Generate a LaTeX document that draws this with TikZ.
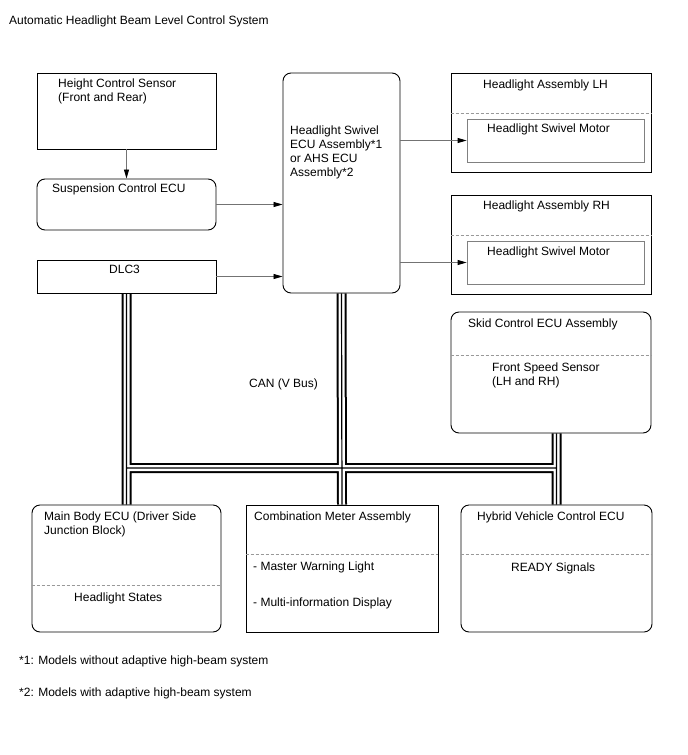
\documentclass[tikz,border=0pt]{standalone}
\usepackage{fontspec}
\setmainfont{Liberation Sans}
\usetikzlibrary{arrows.meta,backgrounds}
\begin{document}
\begin{tikzpicture}[x=1pt,y=-1pt,
  font=\fontsize{12}{14}\selectfont,
  box/.style={draw=black,line width=0.9pt,inner sep=0pt,minimum width=#1},
  rbox/.style={box=#1,rounded corners=8pt},
  mbox/.style={draw=black!50,line width=0.8pt,inner sep=0pt,minimum width=177pt,minimum height=43pt},
  txt/.style={anchor=base west,inner sep=0pt,align=left},
  sep/.style={draw=black!40,dash pattern=on 3pt off 2pt,line width=0.6pt},
  arr/.style={draw=black!55,line width=0.8pt,-{Triangle[length=9pt,width=5pt,color=black]}},
  busout/.style={line width=10pt,black},
  busin/.style={line width=6pt,white},
  buscore/.style={line width=1.2pt,black}]
\useasboundingbox (0,0) rectangle (688,755);

\node[txt] (title) at (9,24) {Automatic Headlight Beam Level Control System};

% boxes
\node[box=179pt,minimum height=76pt] (hcs) at (126.5,111) {};
\node[rbox=179pt,minimum height=51pt] (susp) at (126.5,204.5) {};
\node[box=179pt,minimum height=33pt] (dlc) at (126.5,276.5) {};
\node[rbox=117pt,minimum height=220pt] (swivel) at (341.5,183) {};
\node[box=200pt,minimum height=99pt] (lh) at (551,122.5) {};
\node[mbox] (lhm) at (555.5,140.5) {};
\node[box=200pt,minimum height=99pt] (rh) at (551,244.5) {};
\node[mbox] (rhm) at (555.5,262.5) {};
\node[rbox=200pt,minimum height=121pt] (skid) at (551,372.5) {};
\node[rbox=189pt,minimum height=127pt] (main) at (126.5,568.5) {};
\node[box=192pt,minimum height=127pt] (comb) at (342,568.5) {};
\node[rbox=191pt,minimum height=127pt] (hyb) at (556.5,568.5) {};

% separators
\draw[sep] (lh.west |- 0,113) -- (lh.east |- 0,113);
\draw[sep] (rh.west |- 0,235.5) -- (rh.east |- 0,235.5);
\draw[sep] (skid.west |- 0,355) -- (skid.east |- 0,355);
\draw[sep] (main.west |- 0,585) -- (main.east |- 0,585);
\draw[sep] (comb.west |- 0,554) -- (comb.east |- 0,554);
\draw[sep] (hyb.west |- 0,554) -- (hyb.east |- 0,554);

% texts (multi-line nodes: base = baseline of last line)
\node[txt] (thcs) at (58,101) {Height Control Sensor\\(Front and Rear)};
\node[txt] (tsusp) at (52,192) {Suspension Control ECU};
\node[txt] (tdlc) at (109,273) {DLC3};
\node[txt] (tswivel) at (290,176) {Headlight Swivel\\ECU Assembly*1\\or AHS ECU\\Assembly*2};
\node[txt] (tlh) at (483,88) {Headlight Assembly LH};
\node[txt] (tlhm) at (487,132) {Headlight Swivel Motor};
\node[txt] (trh) at (483,209) {Headlight Assembly RH};
\node[txt] (trhm) at (487,255) {Headlight Swivel Motor};
\node[txt] (tskid) at (468,327) {Skid Control ECU Assembly};
\node[txt] (tfss) at (492,385) {Front Speed Sensor\\(LH and RH)};
\node[txt] (tcan) at (249,387) {CAN (V Bus)};
\node[txt] (tmain) at (44,534) {Main Body ECU (Driver Side\\Junction Block)};
\node[txt] (thls) at (74,601) {Headlight States};
\node[txt] (tcomb) at (254,520) {Combination Meter Assembly};
\node[txt] (tmwl) at (253,570) {- Master Warning Light};
\node[txt] (tmid) at (253,606) {- Multi-information Display};
\node[txt] (thyb) at (477,520) {Hybrid Vehicle Control ECU};
\node[txt] (tready) at (511,571) {READY Signals};
\node[txt] (fn1) at (19,664) {*1: Models without adaptive high-beam system};
\node[txt] (fn2) at (19,696) {*2: Models with adaptive high-beam system};

% arrows
\draw[arr] (hcs.south) -- (susp.north);
\draw[arr] (susp.east) -- (susp.east -| swivel.west);
\draw[arr] (dlc.east) -- (dlc.east -| swivel.west);
\draw[arr] (swivel.east |- lhm.west) -- (lhm.west);
\draw[arr] (swivel.east |- rhm.west) -- (rhm.west);

% CAN bus
\coordinate (jl) at (126.5,468);
\coordinate (jr) at (556.5,468);
\begin{scope}[on background layer]
\fill[white] (0,0) rectangle (688,755);
\foreach \st in {busout,busin,buscore}{
  \draw[\st] (dlc.south) -- (main.north)
             (swivel.south) -- (comb.north)
             (skid.south -| hyb.north) -- (hyb.north)
             (jl) -- (jr);
}
\end{scope}
\end{tikzpicture}
\end{document}
